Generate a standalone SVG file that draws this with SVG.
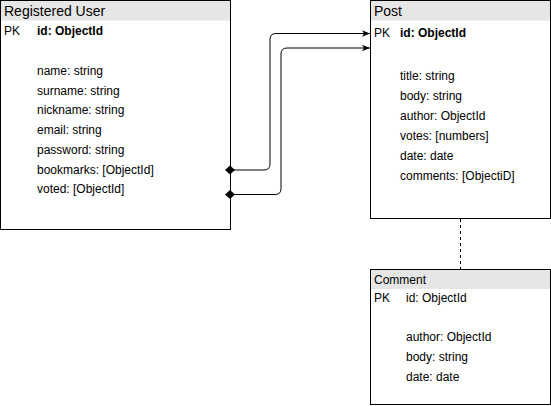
<svg xmlns="http://www.w3.org/2000/svg" width="551" height="406" viewBox="0 0 551 406">
  <style>
    .box { fill: #ffffff; stroke: #000000; stroke-width: 1; }
    .head { fill: #e6e6e6; }
    .title { font-family: "Liberation Sans", Arial, sans-serif; font-size: 14px; fill: #000; }
    .txt { font-family: "Liberation Sans", Arial, sans-serif; font-size: 12px; fill: #000; }
    .bold { font-weight: bold; }
    .link { fill: none; stroke: #000; stroke-width: 1; }
    .dash { fill: none; stroke: #000; stroke-width: 1; stroke-dasharray: 3 3; }
  </style>
  <defs>
    <marker id="arrow" viewBox="0 0 10 10" refX="10" refY="5" markerWidth="8" markerHeight="8" markerUnits="userSpaceOnUse" orient="auto">
      <path d="M0,1 L10,5 L0,9 L2.5,5 Z" fill="#000"/>
    </marker>
    <marker id="diamond" viewBox="0 0 12 12" refX="6" refY="6" markerWidth="12" markerHeight="12" markerUnits="userSpaceOnUse" orient="auto">
      <path d="M1,6 L6,1.5 L11,6 L6,10.5 Z" fill="#000"/>
    </marker>
  </defs>

  <g id="registered-user">
    <rect class="box" x="0.5" y="0.5" width="230" height="229"/>
    <rect class="head" x="1" y="1" width="229" height="19.5"/>
    <text class="title" x="4" y="16">Registered User</text>
    <text class="txt" x="4" y="35">PK</text>
    <text class="txt bold" x="37" y="35">id: ObjectId</text>
    <text class="txt" x="37" y="75">name: string</text>
    <text class="txt" x="37" y="95">surname: string</text>
    <text class="txt" x="37" y="114">nickname: string</text>
    <text class="txt" x="37" y="134">email: string</text>
    <text class="txt" x="37" y="154">password: string</text>
    <text class="txt" x="37" y="174">bookmarks: [ObjectId]</text>
    <text class="txt" x="37" y="193">voted: [ObjectId]</text>
  </g>

  <g id="post">
    <rect class="box" x="370.5" y="0.5" width="180" height="218"/>
    <rect class="head" x="371" y="1" width="179" height="19.5"/>
    <text class="title" x="374" y="16">Post</text>
    <text class="txt" x="374" y="37">PK</text>
    <text class="txt bold" x="400" y="37">id: ObjectId</text>
    <text class="txt" x="400" y="80">title: string</text>
    <text class="txt" x="400" y="100">body: string</text>
    <text class="txt" x="400" y="120">author: ObjectId</text>
    <text class="txt" x="400" y="140">votes: [numbers]</text>
    <text class="txt" x="400" y="160">date: date</text>
    <text class="txt" x="400" y="180">comments: [ObjectiD]</text>
  </g>

  <g id="comment">
    <rect class="box" x="370.5" y="269.5" width="180" height="135"/>
    <rect class="head" x="371" y="270" width="179" height="19"/>
    <text class="txt" x="374" y="284">Comment</text>
    <text class="txt" x="374" y="302">PK</text>
    <text class="txt" x="406" y="302">id: ObjectId</text>
    <text class="txt" x="406" y="341">author: ObjectId</text>
    <text class="txt" x="406" y="361">body: string</text>
    <text class="txt" x="406" y="381">date: date</text>
  </g>

  <g id="connectors">
    <path class="link" d="M230,170 H264 Q270,170 270,164 V39.5 Q270,33.5 276,33.5 H370" marker-start="url(#diamond)" marker-end="url(#arrow)"/>
    <path class="link" d="M230,194.5 H275 Q281,194.5 281,188.5 V54 Q281,48 287,48 H370" marker-start="url(#diamond)" marker-end="url(#arrow)"/>
    <path class="dash" d="M460.5,219 V269.5"/>
  </g>
</svg>
